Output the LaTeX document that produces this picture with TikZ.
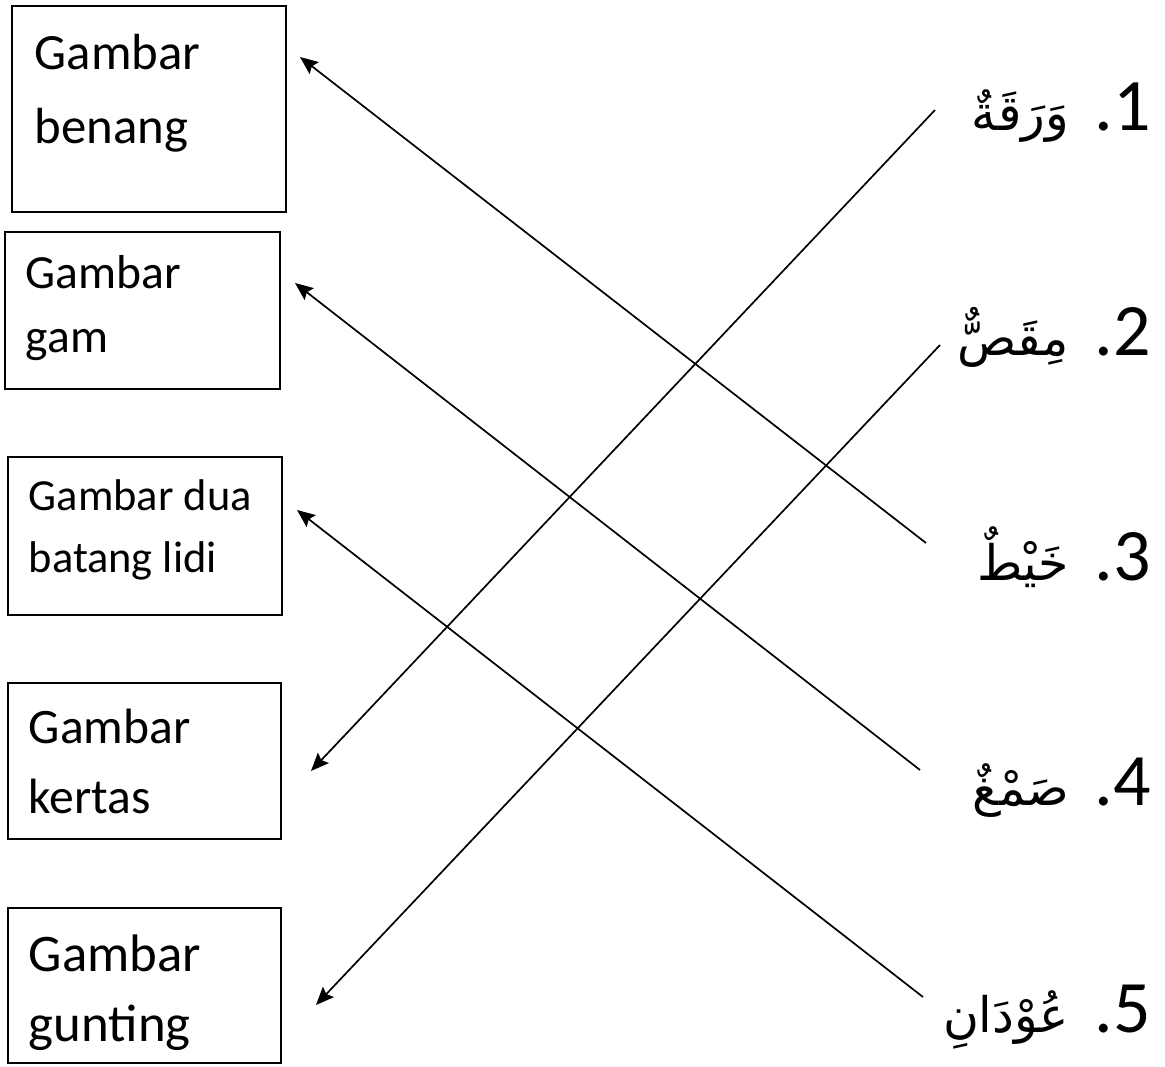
\documentclass[tikz,border=0pt]{standalone}
\usepackage{fontspec}
\setmainfont{Carlito}
\newfontfamily\arabicfont[Script=Arabic]{DejaVu Sans}
\TeXXeTstate=1
\usetikzlibrary{arrows.meta}
\newcommand{\ar}[1]{{\arabicfont\fontsize{24.5}{30}\selectfont\beginR #1\endR}}

\begin{document}
\begin{tikzpicture}[x=0.5pt,y=-0.5pt,line width=0.85pt,
	>={Stealth[length=9pt,width=7.5pt,inset=1.5pt]},
	box/.style={draw,anchor=north west,inner sep=0pt,minimum width=137pt},
	txt/.style={anchor=north west,inner sep=0pt,align=left},
	lab/.style={anchor=base east,inner sep=0pt,font=\fontsize{37}{44}\selectfont}]
	\useasboundingbox (0,0) rectangle (1165,1066);

	% picture boxes
	\node[box,minimum height=103pt]                    (b1) at (11,5)   {};
	\node[box,minimum height=78.5pt,minimum width=137.5pt] (b2) at (4,231) {};
	\node[box,minimum height=79pt]                     (b3) at (7,456)  {};
	\node[box,minimum height=78pt,minimum width=136.5pt]   (b4) at (7,682) {};
	\node[box,minimum height=77.5pt,minimum width=136.5pt] (b5) at (7,907) {};

	\node[txt,font=\fontsize{25.4}{37}\selectfont] (t1) at (34,33)  {Gambar\\benang};
	\node[txt,font=\fontsize{23.8}{32}\selectfont] (t2) at (25,255) {Gambar\\gam};
	\node[txt,font=\fontsize{22.2}{31}\selectfont] (t3) at (28,479) {Gambar dua\\batang lidi};
	\node[txt,font=\fontsize{24.8}{35}\selectfont] (t4) at (28,708) {Gambar\\kertas};
	\node[txt,font=\fontsize{26.4}{35}\selectfont] (t5) at (28,934) {Gambar\\gunting};

	% words
	\node[lab] (w1) at (1152,130)  {\ar{وَرَقَةٌ}\hspace{13pt}.1};
	\node[lab] (w2) at (1152,355)  {\ar{مِقَصٌّ}\hspace{13pt}.2};
	\node[lab] (w3) at (1152,580)  {\ar{خَيْطٌ}\hspace{13pt}.3};
	\node[lab] (w4) at (1152,805)  {\ar{صَمْغٌ}\hspace{13pt}.4};
	\node[lab] (w5) at (1152,1032) {\ar{عُوْدَانِ}\hspace{13pt}.5};

	% arrow ends
	\coordinate (s1) at (935,110);
	\coordinate (s2) at (940,345);
	\coordinate (s3) at (926,543);
	\coordinate (s4) at (920,770);
	\coordinate (s5) at (923,997);
	\coordinate (e1) at (300,57);
	\coordinate (e2) at (295,283);
	\coordinate (e3) at (297,510);
	\coordinate (e4) at (311,771);
	\coordinate (e5) at (316,1005);

	\draw[->] (s3) -- (e1);
	\draw[->] (s4) -- (e2);
	\draw[->] (s5) -- (e3);
	\draw[->] (s1) -- (e4);
	\draw[->] (s2) -- (e5);
\end{tikzpicture}
\end{document}
